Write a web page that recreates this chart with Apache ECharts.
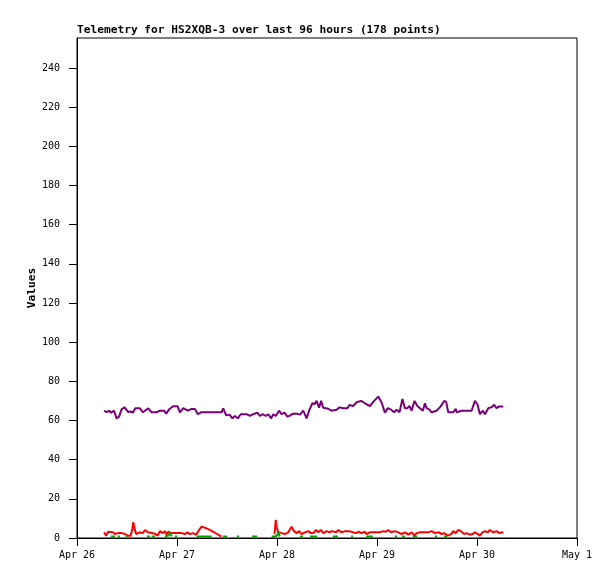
<!DOCTYPE html>
<html>
<head>
<meta charset="utf-8">
<script src="https://cdn.jsdelivr.net/npm/echarts@6/dist/echarts.min.js"></script>
<style>
html,body{margin:0;padding:0;background:#fff;}
#chart{width:615px;height:579px;}
</style>
</head>
<body>
<div id="chart"></div>
<script>
// x values are hours since Apr 26 00:00
var dayLabels = ['Apr 26', 'Apr 27', 'Apr 28', 'Apr 29', 'Apr 30', 'May 1'];
var yTicks = [0, 20, 40, 60, 80, 100, 120, 140, 160, 180, 200, 220, 240];

var purpleData = [
[6.5,65.0],[7.1,64.2],[7.7,65],[8.2,64],[8.9,65],[9.5,61.1],[10.1,62],[10.7,65.7],[11.4,66.7],[11.8,67.2],
[12.3,64.3],[12.9,64.6],[13.4,64],[14.0,66.2],[15.1,66.2],[15.8,64.2],[16.3,65],[17.1,66.2],[17.9,64.2],[19.1,64.2],
[19.9,65],[20.9,65],[21.4,63.5],[22.2,65.9],[23.1,67.3],[24.1,67.3],[24.7,64.2],[25.5,66.3],[25.9,67.3],[26.6,65],
[27.5,65.9],[28.3,65.9],[29.0,63.2],[29.8,64.2],[34.7,64.2],[35.1,66.2],[35.8,62.6],[36.6,63],[37.3,61.1],[37.9,62.3],
[38.6,61.1],[39.3,63.2],[40.7,63.2],[41.5,62.3],[42.3,63.2],[43.3,64],[43.9,62.3],[44.6,63.2],[45.3,62.3],[45.9,63.2],
[46.6,61.1],[47.1,63.2],[47.7,62.3],[48.5,65],[49.1,63.2],[49.8,64],[50.5,62],[51.1,62.5],[51.8,63.5],[52.7,63.5],
[53.5,63],[54.3,65],[55.1,61.1],[55.7,65],[56.5,68.8],[57.1,68.4],[57.5,70.1],[58.1,66.5],[58.6,70],[59.1,66.5],
[60.3,66],[61.1,65],[62.3,65.5],[63.0,66.7],[63.9,66.3],[64.9,66.3],[65.4,67.9],[66.3,67.4],[67.1,69.3],[68.2,70],
[69.1,68.8],[70.3,67.4],[71.3,70],[72.3,72.2],[73.1,69.2],[73.9,64],[74.6,66.3],[75.4,65.5],[76.1,64.2],[76.7,65.5],
[77.4,64.2],[78.1,71],[78.7,66.3],[79.3,66.3],[79.8,67.4],[80.3,65],[81.0,70],[81.7,67.4],[82.3,66.3],[83.0,65],
[83.5,68.8],[83.9,66.3],[84.6,65.5],[85.1,64.2],[86.3,65],[87.3,67.2],[88.1,70],[88.6,69.5],[89.1,64.2],[90.3,64.2],
[90.9,66],[91.1,64.2],[92.3,65],[94.7,65],[95.5,70],[96.1,68.3],[96.7,63.2],[97.4,65],[97.9,63.2],[98.7,66.3],
[99.5,66.8],[100.1,68],[100.7,66.3],[101.3,67.2],[102.3,67.2]
];

var redData = [
[6.5,2.9],[7.0,1.2],[7.5,3.2],[7.9,2.2],[8.6,2.9],[9.1,2],[9.9,2.5],[10.7,2.5],[11.5,2],[12.2,1.2],
[12.9,1.2],[13.3,5],[13.5,8],[13.8,5],[14.2,2],[15.0,2.9],[15.8,2.5],[16.3,4.1],[17.0,2.9],[17.9,2.5],
[18.7,2.2],[19.3,1.2],[19.9,3.5],[20.6,2.5],[21.1,3.5],[21.5,1.7],[21.9,3.2],[22.7,2.5],[23.9,2.5],[25.1,2.5],
[25.9,2],[26.5,2.9],[27.1,2],[27.8,2.5],[28.6,1.7],[29.1,3.5],[29.9,5.8],[31.0,5],[32.2,3.8],[33.4,2.3],
[34.7,0.7],[41.0,null],
[47.4,1.9],[47.7,9.2],[47.9,5.6],[48.3,2.9],[49.1,2.5],[49.9,2],[50.7,2.9],[51.5,5.8],[52.1,3.5],[52.7,2.5],
[53.3,3.5],[53.9,2],[54.7,2.9],[55.5,3.5],[56.1,2.5],[56.7,2.5],[57.4,4.1],[57.9,2.9],[58.5,4.1],[59.1,2.5],
[59.9,3.5],[60.6,2.9],[61.1,3.5],[62.2,2.9],[62.7,4.1],[63.5,2.9],[64.3,3.5],[65.3,3.5],[66.2,2.9],[67.0,2.5],
[67.5,3.2],[68.3,2.5],[69.1,3.2],[69.5,2],[70.3,2.9],[71.5,2.9],[72.7,2.9],[73.5,3.5],[74.1,3.2],[74.7,4.1],
[75.4,2.9],[76.3,3.5],[77.1,2.9],[77.9,2],[78.7,2.9],[79.5,1.7],[80.3,2.9],[81.0,1.2],[81.5,2.5],[82.3,2.9],
[83.5,2.9],[84.3,2.9],[85.1,3.5],[85.9,2.5],[86.9,2.9],[87.5,2],[88.1,2.5],[89.0,1.2],[89.8,2],[90.3,3.5],
[90.9,2.5],[91.5,4.1],[92.3,3.2],[92.9,2],[93.5,2.5],[94.3,1.7],[94.9,2],[95.5,2.9],[96.2,2],[96.7,1.2],
[97.3,2.9],[97.9,3.5],[98.6,2.9],[99.1,4.1],[99.9,2.9],[100.7,3.5],[101.3,2.5],[102.3,2.9]
];

var greenData = [
[8.1,0.8],[9.1,0.8],[9.5,null],[9.8,0.8],[10.3,0.8],[11.0,null],[11.7,0.8],[12.1,0.8],[14.0,null],
[16.8,0.8],[17.5,0.8],[17.7,null],[17.9,0.8],[18.7,0.8],[20.0,null],[21.1,0.8],[21.9,1.2],[22.3,2.7],[22.7,0.8],
[23.1,null],[23.5,0.8],[24.0,0.8],[26.0,null],[28.7,0.8],[32.3,0.8],[33.5,null],[35.0,0.8],[36.0,0.8],[37.0,null],
[38.4,0.8],[38.9,0.8],[40.0,null],[42.0,0.8],[43.2,0.8],[45.0,null],[46.7,0.8],[47.5,0.8],[48.0,1.2],[48.3,2.9],
[48.7,0.8],[51.0,null],[53.5,0.8],[53.9,1.5],[54.2,0.8],[55.0,null],[55.9,0.8],[57.6,0.8],[59.0,null],[61.4,0.8],
[62.6,0.8],[64.0,null],[65.8,0.8],[66.2,0.8],[68.0,null],[69.4,0.8],[69.8,1.5],[71.0,0.8],[73.0,null],[76.3,0.8],
[76.8,0.8],[77.4,null],[78.0,0.8],[78.7,0.8],[79.5,null],[80.6,0.8],[81.0,1.5],[81.6,0.8],[83.0,null],[85.9,0.8],
[86.4,0.8],[87.0,null],[88.1,0.8],[88.8,0.8]
];

function prep(arr) {
  return arr.map(function (p) { return [p[0], p[1] === null ? '-' : p[1]]; });
}

var FONT = 'DejaVu Sans Mono';
var chart = echarts.init(document.getElementById('chart'), null, {renderer: 'canvas'});
chart.setOption({
  animation: false,
  backgroundColor: '#ffffff',
  title: {
    text: 'Telemetry for HS2XQB-3 over last 96 hours (178 points)',
    left: 72, top: 20,
    textStyle: {fontFamily: FONT, fontWeight: 'bold', fontSize: 11.2, color: '#000'}
  },
  grid: {left: 77, right: 38, top: 38, bottom: 41, show: true, borderColor: '#000', borderWidth: 1, backgroundColor: 'transparent'},
  xAxis: {
    type: 'value', min: 0, max: 120, interval: 24, z: 10,
    axisLine: {show: true, lineStyle: {color: '#000', width: 1}},
    axisTick: {show: true, inside: false, length: 8, lineStyle: {color: '#000', width: 1}},
    axisLabel: {
      margin: 12, color: '#000', fontFamily: FONT, fontSize: 10,
      formatter: function (v) { return dayLabels[Math.round(v / 24)] || ''; }
    },
    splitLine: {show: false}
  },
  yAxis: {
    type: 'value', min: 0, max: 255.3, interval: 20, z: 10,
    name: 'Values', nameLocation: 'middle', nameGap: 39, nameRotate: 90, nameMoveOverlap: false,
    nameTextStyle: {fontFamily: FONT, fontWeight: 'bold', fontSize: 11.2, color: '#000'},
    axisLine: {show: true, lineStyle: {color: '#000', width: 1}},
    axisTick: {show: true, inside: false, length: 8, lineStyle: {color: '#000', width: 1}},
    axisLabel: {
      margin: 17, color: '#000', fontFamily: FONT, fontSize: 10, showMaxLabel: false,
      formatter: function (v) { return yTicks.indexOf(Math.round(v)) >= 0 && Math.abs(v - Math.round(v)) < 1e-6 ? String(v) : ''; }
    },
    splitLine: {show: false}
  },
  series: [
    {type: 'line', name: 'purple', data: prep(purpleData), showSymbol: false, symbol: 'none',
     lineStyle: {color: '#7a007a', width: 2}, itemStyle: {color: '#7a007a'}, z: 2},
    {type: 'line', name: 'red', data: prep(redData), showSymbol: false, symbol: 'none',
     lineStyle: {color: '#ff0000', width: 2}, itemStyle: {color: '#ff0000'}, z: 3},
    {type: 'line', name: 'green', data: prep(greenData), showSymbol: false, symbol: 'none',
     lineStyle: {color: '#00a000', width: 2}, itemStyle: {color: '#00a000'}, z: 4}
  ]
});
</script>
</body>
</html>
